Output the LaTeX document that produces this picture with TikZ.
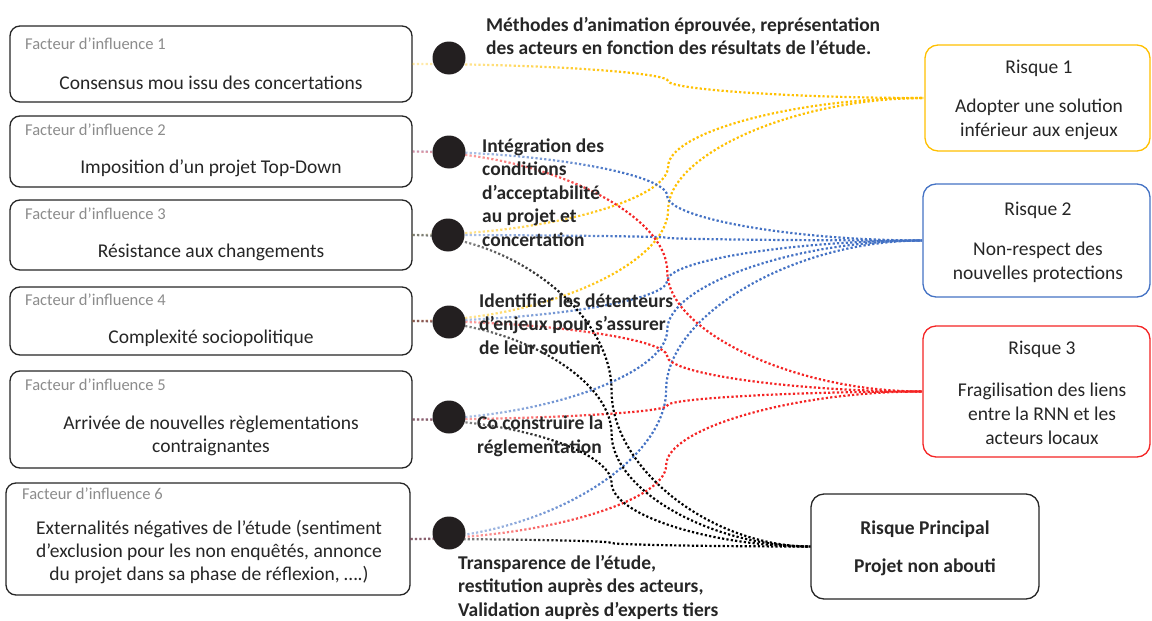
\documentclass[tikz,border=0pt]{standalone}
\usepackage{fontspec}
\setmainfont{Carlito}
\usetikzlibrary{calc,fadings}

\definecolor{cgold}{HTML}{FFC000}
\definecolor{cblue}{HTML}{4472C4}
\definecolor{cred}{HTML}{F42424}
\definecolor{cink}{HTML}{262626}
\definecolor{cgrey}{HTML}{8C8C8C}
\definecolor{cdot}{HTML}{231F20}

% links start opaque at the factor box, pale just after the dot, full colour towards the risk
\pgfdeclarehorizontalshading{linkfadeshade}{100bp}{color(0bp)=(white); color(5bp)=(black!72); color(28bp)=(black!65); color(46bp)=(white); color(100bp)=(white)}
\pgfdeclarefading{linkfade}{\pgfuseshading{linkfadeshade}}

\tikzset{
  fbox/.style={draw=cink, line width=1.3pt, rounded corners=10pt, inner sep=0pt, fill=white},
  flabel/.style={font=\fontsize{16.5}{20}\selectfont, text=cgrey, anchor=west, inner sep=0pt, text height=0.7em, text depth=0.2em},
  ftext/.style={font=\fontsize{19.5}{23}\selectfont, text=cink, align=center, inner sep=0pt},
  rbox/.style={line width=1.3pt, rounded corners=13pt, inner sep=0pt, fill=white},
  rtext/.style={font=\fontsize{19.5}{24}\selectfont, text=cink, align=center, inner sep=0pt},
  blabel/.style={font=\fontsize{19.5}{23.5}\selectfont\bfseries, text=cink, align=left, anchor=west, inner sep=0pt},
  link/.style={line width=2.2pt, dash pattern=on 2.2pt off 2.2pt, path fading=linkfade},
  bigdot/.style={circle, fill=cdot, minimum size=33pt, inner sep=0pt},
}

% curved connector: horizontal at both ends, vertical half way
\newcommand\curvelink[3][]{%
  \draw[link,#1] let \p1=(#2), \p2=(#3),
      \p3=($(\p1)!0.5!(\p2)$), \p4=($(\p1)!0.5!(\p3)$), \p5=($(\p3)!0.5!(\p2)$),
      \p6=($(\p1)!0.25!(\p2)$), \p7=($(\p1)!0.75!(\p2)$) in
    (\p1) .. controls (\x4,\y1) and (\x3,\y6) .. (\p3)
          .. controls (\x3,\y7) and (\x5,\y2) .. (\p2);}

\begin{document}
\begin{tikzpicture}[x=1pt,y=-1pt]
\useasboundingbox (0,0) rectangle (1152,621);

% factor boxes
\node[fbox, minimum width=402pt, minimum height=76pt]  (f1) at (211,64) {};
\node[fbox, minimum width=402pt, minimum height=71pt]  (f2) at (211,151.5) {};
\node[fbox, minimum width=402pt, minimum height=70pt]  (f3) at (211,235) {};
\node[fbox, minimum width=402pt, minimum height=68pt]  (f4) at (211,321) {};
\node[fbox, minimum width=402pt, minimum height=97pt]  (f5) at (211,419.5) {};
\node[fbox, minimum width=404pt, minimum height=112pt] (f6) at (208,539) {};

\node[flabel] (fl1) at (25,47)  {Facteur d’influence 1};
\node[flabel] (fl2) at (25,133) {Facteur d’influence 2};
\node[flabel] (fl3) at (25,217) {Facteur d’influence 3};
\node[flabel] (fl4) at (25,303) {Facteur d’influence 4};
\node[flabel] (fl5) at (25,388) {Facteur d’influence 5};
\node[flabel] (fl6) at (22,497) {Facteur d’influence 6};

\node[ftext] (ft1) at (211,82.5)  {Consensus mou issu des concertations};
\node[ftext] (ft2) at (211,168.5) {Imposition d’un projet Top-Down};
\node[ftext] (ft3) at (211,252.5) {Résistance aux changements};
\node[ftext] (ft4) at (211,338.5) {Complexité sociopolitique};
\node[ftext] (ft5) at (211,436) {Arrivée de nouvelles règlementations\\contraignantes};
\node[ftext] (ft6) at (209,552.5) {Externalités négatives de l’étude (sentiment\\d’exclusion pour les non enquêtés, annonce\\du projet dans sa phase de réflexion, ….)};

% risk boxes
\node[rbox, draw=cgold, minimum width=225pt, minimum height=106pt] (r1) at (1037.5,98) {};
\node[rbox, draw=cblue, minimum width=227pt, minimum height=113pt] (r2) at (1036.5,240.5) {};
\node[rbox, draw=cred,  minimum width=227pt, minimum height=131pt] (r3) at (1036.5,391.5) {};
\node[rbox, draw=cink,  minimum width=228pt, minimum height=105pt] (rp) at (925,546.5) {};

\node[rtext] (rt1a) at (1039,68.5)  {Risque 1};
\node[rtext] (rt1b) at (1039,119) {Adopter une solution\\inférieur aux enjeux};
\node[rtext] (rt2a) at (1038,210.5) {Risque 2};
\node[rtext] (rt2b) at (1038,262) {Non-respect des\\nouvelles protections};
\node[rtext] (rt3a) at (1042,349.5) {Risque 3};
\node[rtext] (rt3b) at (1042,413.5) {Fragilisation des liens\\entre la RNN et les\\acteurs locaux};
\node[rtext, font=\fontsize{19.5}{24}\selectfont\bfseries] (rtpa) at (925,529.5) {Risque Principal};
\node[rtext, font=\fontsize{19.5}{24}\selectfont\bfseries] (rtpb) at (925,567.5) {Projet non abouti};

% links factor -> risk
\curvelink[cgold]{f1.east}{r1.west}
\curvelink[cgold]{f3.east}{r1.west}
\curvelink[cgold]{f4.east}{r1.west}

\curvelink[cblue]{f2.east}{r2.west}
\curvelink[cblue]{f3.east}{r2.west}
\curvelink[cblue]{f4.east}{r2.west}
\curvelink[cblue]{f5.east}{r2.west}
\curvelink[cblue]{f6.east}{r2.west}

\curvelink[cred]{f2.east}{r3.west}
\curvelink[cred]{f4.east}{r3.west}
\curvelink[cred]{f5.east}{r3.west}
\curvelink[cred]{f6.east}{r3.west}

\curvelink[black]{f3.east}{rp.west}
\curvelink[black]{f4.east}{rp.west}
\curvelink[black]{f5.east}{rp.west}
\curvelink[black]{f6.east}{rp.west}

% mitigation dots
\node[bigdot] (d1) at (449,58)  {};
\node[bigdot] (d2) at (449,152) {};
\node[bigdot] (d3) at (448,235) {};
\node[bigdot] (d4) at (449,322) {};
\node[bigdot] (d5) at (449,417) {};
\node[bigdot] (d6) at (449,533) {};

% mitigation measures
\node[blabel] (m1) at (486,36)  {Méthodes d’animation éprouvée, représentation\\des acteurs en fonction des résultats de l’étude.};
\node[blabel] (m2) at (482,192.5) {Intégration des\\conditions\\d’acceptabilité\\au projet et\\concertation};
\node[blabel] (m3) at (479,324) {Identifier les détenteurs\\d’enjeux pour s’assurer\\de leur soutien};
\node[blabel] (m4) at (477,436.5) {Co construire la\\réglementation};
\node[blabel] (m5) at (458,587) {Transparence de l’étude,\\restitution auprès des acteurs,\\Validation auprès d’experts tiers};
\end{tikzpicture}
\end{document}
